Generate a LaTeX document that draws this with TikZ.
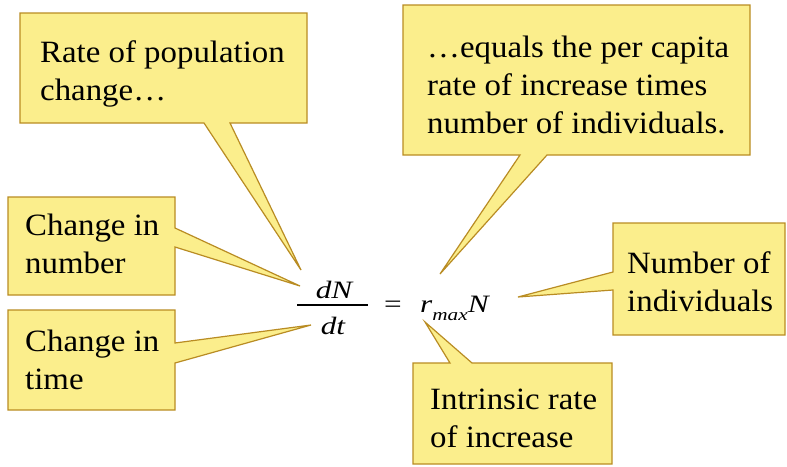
\documentclass[tikz,border=0pt]{standalone}
\usepackage{fontspec}
\setmainfont{Liberation Serif}
\newfontfamily\tnr{Liberation Serif}
\usepackage{graphicx}
\definecolor{boxfill}{RGB}{251,238,140}
\definecolor{boxline}{RGB}{185,140,35}
\newcommand{\boxtext}[1]{\scalebox{1.06}[1]{\tnr\fontsize{31}{38}\selectfont\begin{tabular}[t]{@{}l@{}}#1\end{tabular}}}
\newcommand{\eqfont}{\tnr\fontsize{25}{29}\selectfont\itshape}
\begin{document}
\begin{tikzpicture}[x=1pt,y=-1pt,
  callout/.style={fill=boxfill,draw=boxline,line width=1.2pt,line join=miter},
  calltext/.style={anchor=base west,inner sep=0pt,text=black,font=\tnr},
  eqtext/.style={anchor=base,inner sep=0pt,text=black,font=\tnr}]
\useasboundingbox (0,0) rectangle (787,466);
\fill[white] (0,0) rectangle (787,466);
% tips
\coordinate (t1) at (301,270);
\coordinate (t2) at (440,274);
\coordinate (t3) at (518,297);
\coordinate (t4) at (425,322);
\coordinate (t5) at (300,286);
\coordinate (t6) at (311,325);
% callouts
\draw[callout] (20,13) -- (307,13) -- (307,123) -- (230,123) -- (t1) -- (204,123) -- (20,123) -- cycle;
\draw[callout] (403,5) -- (750,5) -- (750,155) -- (547,155) -- (t2) -- (520,155) -- (403,155) -- cycle;
\draw[callout] (613,223) -- (785,223) -- (785,335) -- (613,335) -- (613,290) -- (t3) -- (613,272) -- cycle;
\draw[callout] (413,363) -- (450,363) -- (t4) -- (472,363) -- (612,363) -- (612,464) -- (413,464) -- cycle;
\draw[callout] (8,197) -- (175,197) -- (175,228) -- (t5) -- (175,247) -- (175,295) -- (8,295) -- cycle;
\draw[callout] (8,310) -- (175,310) -- (175,343) -- (t6) -- (175,363) -- (175,410) -- (8,410) -- cycle;
% texts
\node[calltext] (rate) at (40,62) {\boxtext{Rate of population\\change\ldots}};
\node[calltext] (equals) at (427,57) {\boxtext{\ldots equals the per capita\\rate of increase times\\number of individuals.}};
\node[calltext] (numind) at (627,273) {\boxtext{Number of\\individuals}};
\node[calltext] (intr) at (430,409) {\boxtext{Intrinsic rate\\of increase}};
\node[calltext] (cnum) at (25,235) {\boxtext{Change in\\number}};
\node[calltext] (ctime) at (25,351) {\boxtext{Change in\\time}};
% equation
\node[eqtext] (dN) at (334,298) {\scalebox{1.25}[1]{\eqfont dN}};
\node[eqtext] (dt) at (333,334) {\scalebox{1.25}[1]{\eqfont dt}};
\coordinate (barL) at (297,305);
\coordinate (barR) at (368,305);
\draw[line width=1.4pt] (barL) -- (barR);
\node[eqtext] (eq) at (393,312) {\scalebox{1.25}[1]{\tnr\fontsize{25}{29}\selectfont =}};
\node[calltext] (rmax) at (420,312) {\scalebox{1.25}[1]{\eqfont r\raisebox{-8pt}{\fontsize{17}{19}\selectfont max}N}};
\end{tikzpicture}
\end{document}
